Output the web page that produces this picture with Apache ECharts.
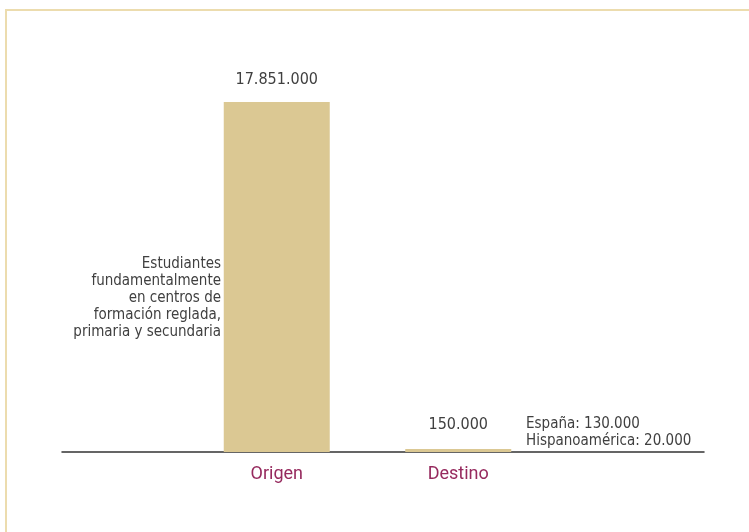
<!DOCTYPE html>
<html>
<head>
<meta charset="utf-8">
<script src="https://cdn.jsdelivr.net/npm/echarts@6/dist/echarts.min.js"></script>
<style>
  html, body { margin: 0; padding: 0; background: #fff; overflow: hidden; }
  #chart { width: 749px; height: 532px; }
</style>
</head>
<body>
<div id="chart"></div>
<script>
'use strict';

const categories = ['Origen', 'Destino'];
const values = [17851000, 150000];
const leftNote = ['Estudiantes', 'fundamentalmente', 'en centros de', 'formación reglada,', 'primaria y secundaria'];
const rightNote = ['España: 130.000', 'Hispanoamérica: 20.000'];

const narrow = '"Liberation Sans Narrow", "DejaVu Sans Condensed", "Roboto", sans-serif';
const barColor = '#dbc893';
const textColor = '#404040';
const borderColor = '#ecdcae';

function fmt(v) {
    return String(v).replace(/\B(?=(\d{3})+(?!\d))/g, '.');
}

const chartDom = document.getElementById('chart');
const myChart = echarts.init(chartDom);

const option = {
    animation: false,
    backgroundColor: '#fff',
    grid: [
        { left: 186, right: 200, top: 102, bottom: 80 },
        { left: 62, right: 45, top: 102, bottom: 80 }
    ],
    xAxis: [
        {
            type: 'category',
            gridIndex: 0,
            data: categories,
            axisLine: { show: false },
            axisTick: { show: false },
            axisLabel: {
                color: '#962a5e',
                fontFamily: 'Roboto, sans-serif',
                fontSize: 18,
                margin: 13
            }
        },
        {
            type: 'value',
            gridIndex: 1,
            axisLine: { show: true, onZero: false, lineStyle: { color: '#333', width: 1.5 } },
            axisTick: { show: false },
            axisLabel: { show: false },
            splitLine: { show: false }
        }
    ],
    yAxis: [
        { type: 'value', gridIndex: 0, min: 0, max: 17851000, show: false },
        { type: 'value', gridIndex: 1, show: false }
    ],
    series: [
        {
            type: 'bar',
            xAxisIndex: 0,
            yAxisIndex: 0,
            barWidth: 106,
            itemStyle: { color: barColor },
            label: {
                show: true,
                position: 'top',
                distance: 14,
                color: textColor,
                fontFamily: narrow,
                fontSize: 16,
                formatter: function (p) { return fmt(p.value); }
            },
            data: values.map(function (v, i) {
                return i === 1 ? { value: v, label: { distance: 16 } } : v;
            })
        }
    ],
    graphic: [
        {
            type: 'line',
            shape: { x1: 6, y1: 10, x2: 749, y2: 10 },
            style: { stroke: borderColor, lineWidth: 2 },
            silent: true
        },
        {
            type: 'line',
            shape: { x1: 6, y1: 9, x2: 6, y2: 532 },
            style: { stroke: borderColor, lineWidth: 2 },
            silent: true
        },
        {
            type: 'text',
            x: 221,
            y: 256,
            style: {
                text: leftNote.join('\n'),
                align: 'right',
                verticalAlign: 'top',
                fill: textColor,
                font: '15px ' + narrow,
                lineHeight: 17
            }
        },
        {
            type: 'text',
            x: 526,
            y: 416,
            style: {
                text: rightNote.join('\n'),
                align: 'left',
                verticalAlign: 'top',
                fill: textColor,
                font: '15px ' + narrow,
                lineHeight: 17
            }
        }
    ]
};

myChart.setOption(option);
window.addEventListener('resize', function () {
    myChart.resize();
});
</script>
</body>
</html>
